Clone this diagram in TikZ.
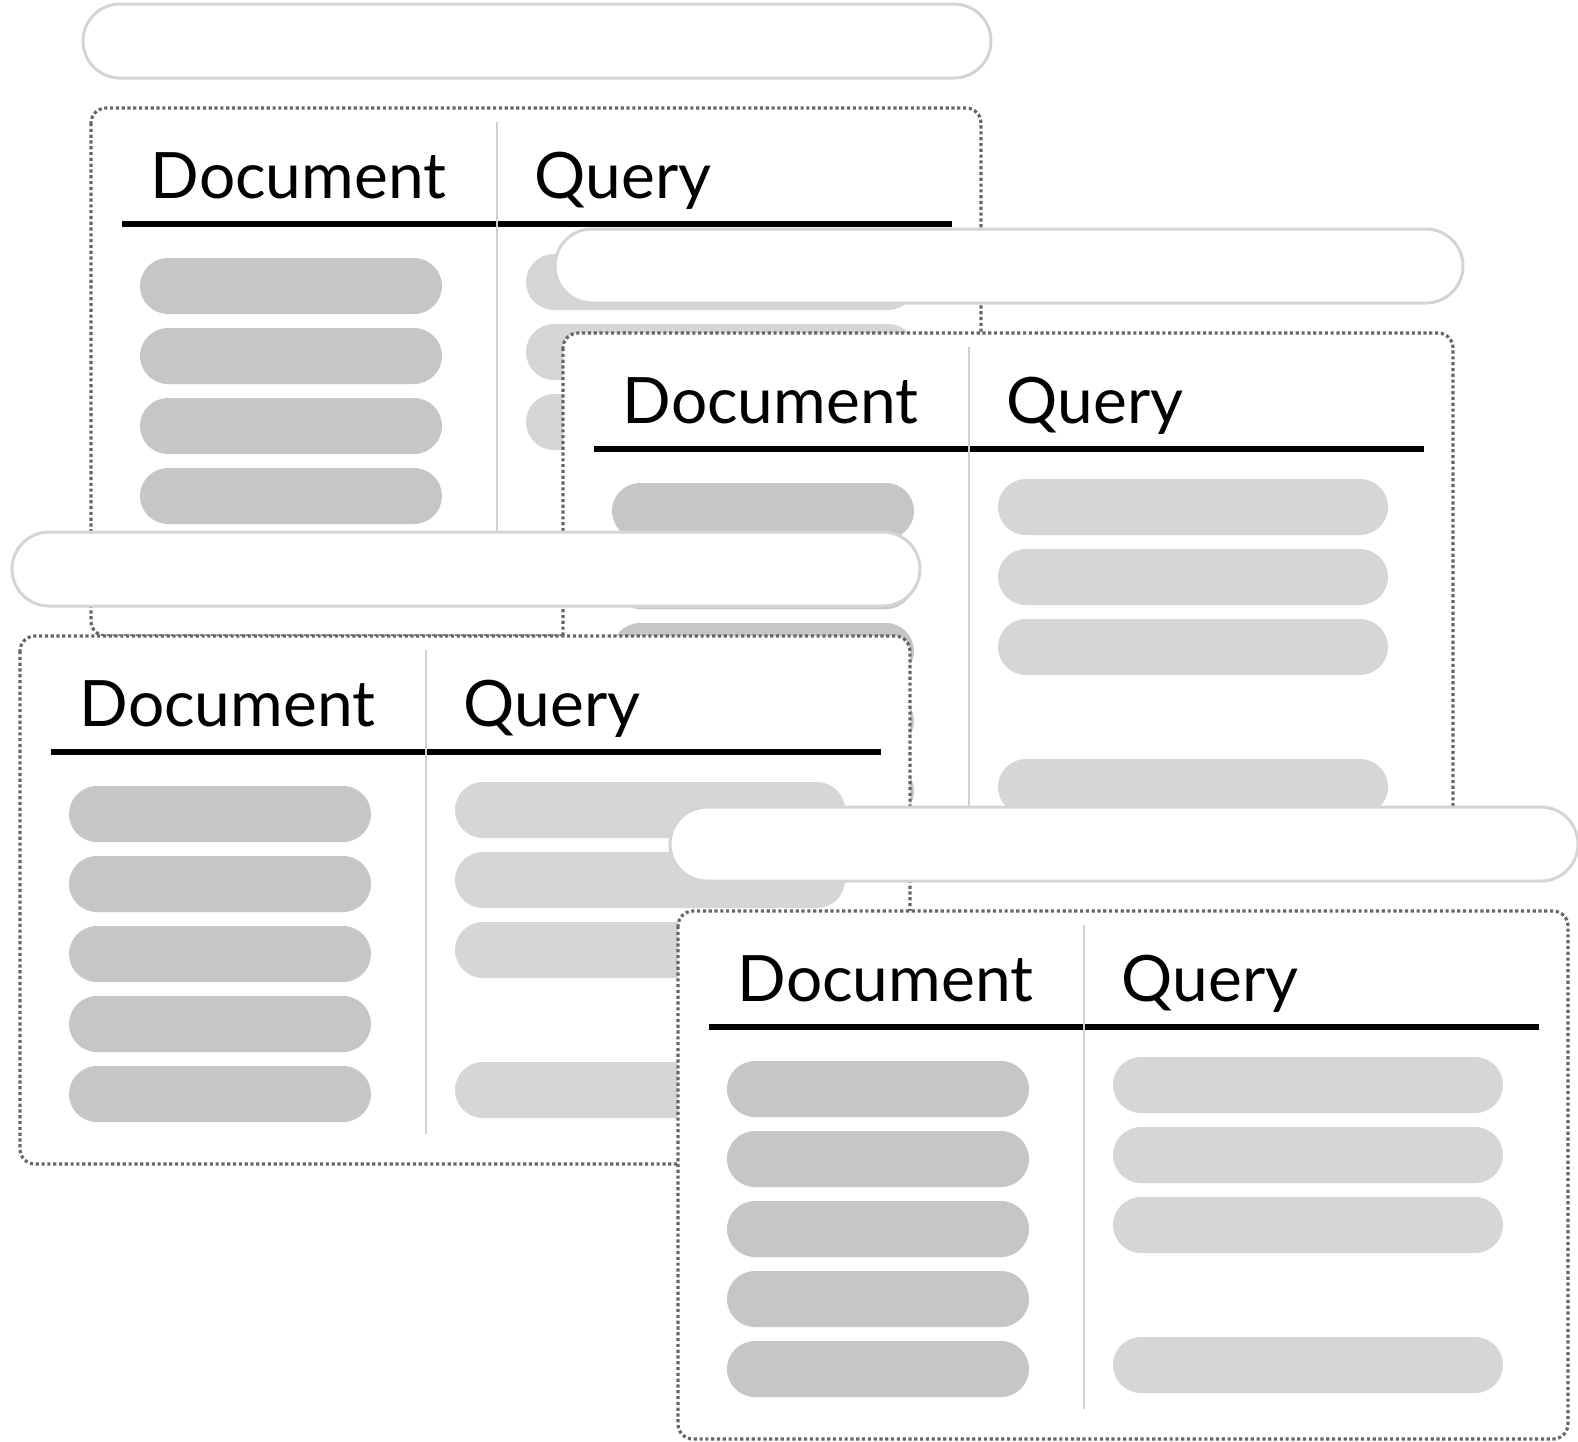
\documentclass[tikz,border=0pt]{standalone}
\usepackage{fontspec}
\setmainfont{Lato}
\usepackage{xcolor}
\definecolor{barline}{RGB}{212,212,212}
\definecolor{docgray}{RGB}{198,198,198}
\definecolor{qrygray}{RGB}{214,214,214}
\definecolor{dotgray}{RGB}{102,102,102}
\definecolor{divgray}{RGB}{208,208,208}

\begin{document}
\begin{tikzpicture}[x=0.01cm,y=-0.01cm,
  searchbar/.style={draw=barline,line width=0.85pt,fill=white,rounded corners=3.7mm},
  cardbox/.style={draw=dotgray,line width=0.9pt,dash pattern=on 0.9pt off 0.75pt,fill=white,rounded corners=1.5mm},
  docbar/.style={fill=docgray,rounded corners=2.8mm},
  qrybar/.style={fill=qrygray,rounded corners=2.8mm},
  colhead/.style={anchor=base west,inner sep=0pt,font=\fontsize{18.2}{22}\selectfont}]
\useasboundingbox (0,0) rectangle (1578,1441);
% four result cards, each one laid over the previous
\foreach \bx/\by [count=\i] in {91/108,563/333,20/636,678/911}{
\begin{scope}[shift={(\bx,\by)}]
\draw[searchbar] (-8,-104) rectangle (900,-30);
\draw[cardbox] (0,0) rectangle (890,528);
\draw[line width=1.6pt] (31,116)--(861,116);
\draw[divgray,line width=0.6pt] (406,14)--(406,498);
\node[colhead] (doc\i) at (59,90) {Document};
\node[colhead] (qry\i) at (443,90) {Query};
\foreach \k in {0,...,4}
  \fill[docbar] (49,150+70*\k) rectangle (351,206+70*\k);
\foreach \k in {0,1,2,4}
  \fill[qrybar] (435,146+70*\k) rectangle (825,202+70*\k);
\end{scope}
}
\end{tikzpicture}
\end{document}
